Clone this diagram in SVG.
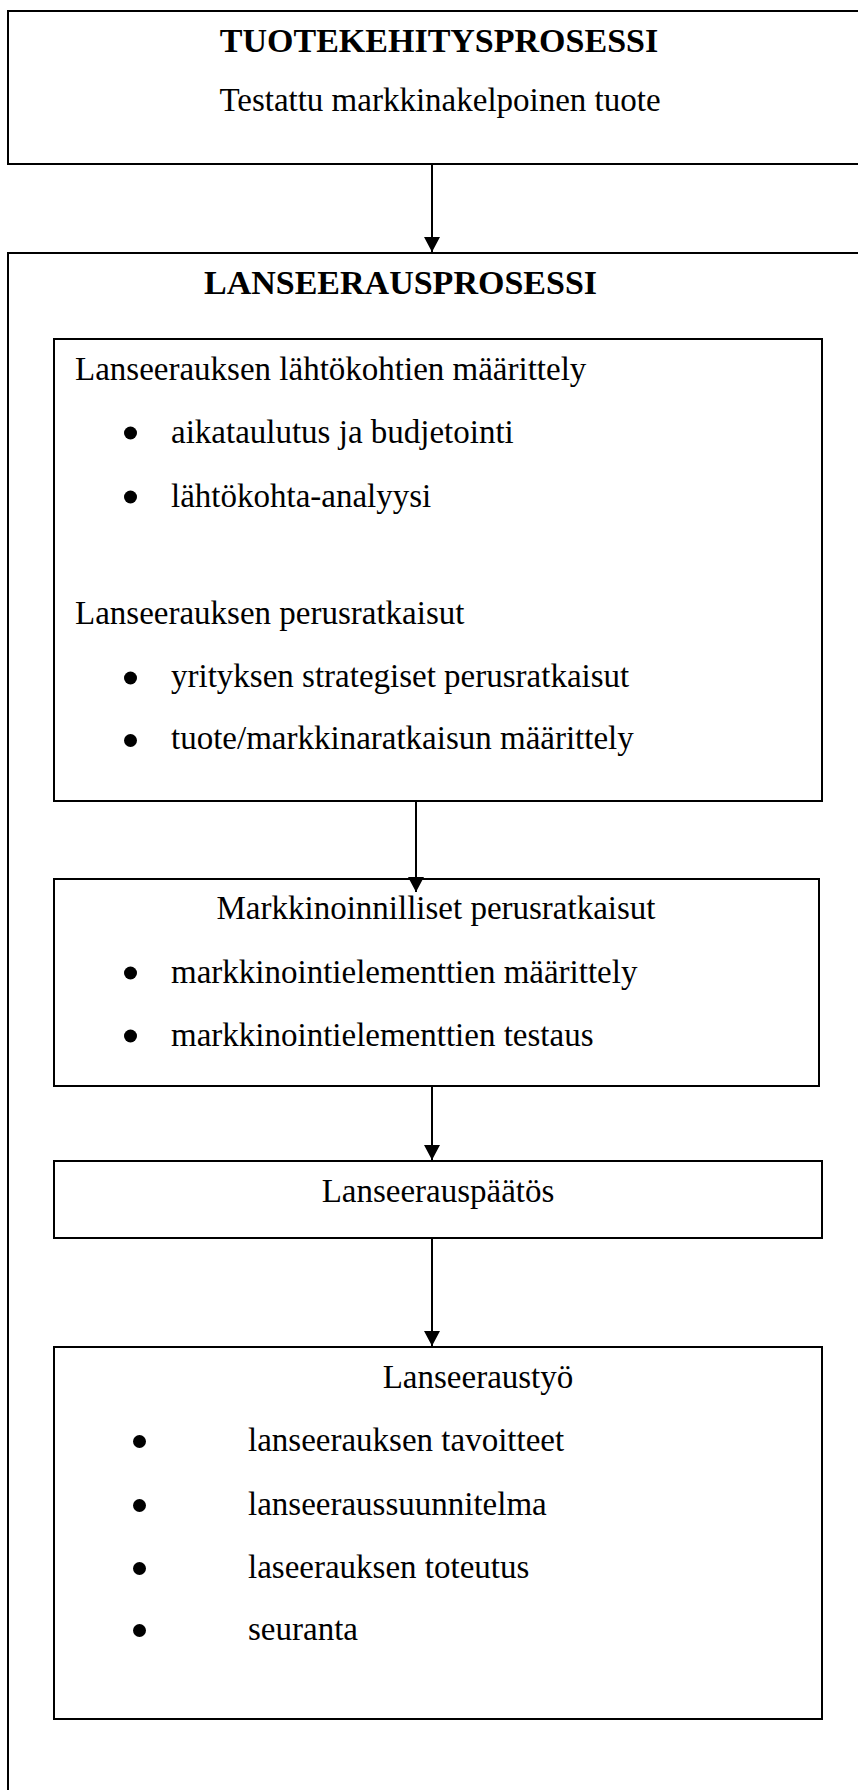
<svg xmlns="http://www.w3.org/2000/svg" width="858" height="1790" viewBox="0 0 858 1790">
<style>
.box{fill:none;stroke:#000;stroke-width:2}
.t{font-family:"Liberation Serif","Times New Roman",serif;font-size:33px;fill:#000}
.b{font-family:"Liberation Serif","Times New Roman",serif;font-size:34px;font-weight:bold;fill:#000}
.m{text-anchor:middle}
.dot{fill:#000}
.conn{stroke:#000;stroke-width:2;fill:none}
</style>
<defs>
<marker id="ah" viewBox="0 0 15 16" refX="15" refY="8" markerWidth="15" markerHeight="16" markerUnits="userSpaceOnUse" orient="auto">
<path d="M0,0 L15,8 L0,16 Z" fill="#000"/>
</marker>
</defs>
<rect width="858" height="1790" fill="#fff"/>
<g id="tuotekehitys">
<rect class="box" x="8" y="11" width="870" height="153"/>
<text class="b m" x="439" y="52">TUOTEKEHITYSPROSESSI</text>
<text class="t m" x="440" y="111">Testattu markkinakelpoinen tuote</text>
</g>
<g id="lanseerausprosessi">
<rect class="box" x="8" y="253" width="870" height="1560"/>
<text class="b" x="204" y="294">LANSEERAUSPROSESSI</text>
</g>
<g id="lahtokohdat">
<rect class="box" x="54" y="339" width="768" height="462"/>
<text class="t" x="75" y="380">Lanseerauksen lähtökohtien määrittely</text>
<circle class="dot" cx="130.5" cy="433" r="6.5"/>
<text class="t" x="171" y="443">aikataulutus ja budjetointi</text>
<circle class="dot" cx="130.5" cy="497" r="6.5"/>
<text class="t" x="171" y="507">lähtökohta-analyysi</text>
<text class="t" x="75" y="624">Lanseerauksen perusratkaisut</text>
<circle class="dot" cx="130.5" cy="678" r="6.5"/>
<text class="t" x="171" y="687">yrityksen strategiset perusratkaisut</text>
<circle class="dot" cx="130.5" cy="740.5" r="6.5"/>
<text class="t" x="171" y="749">tuote/markkinaratkaisun määrittely</text>
</g>
<g id="markkinoinnilliset">
<rect class="box" x="54" y="879" width="765" height="207"/>
<text class="t m" x="436" y="919">Markkinoinnilliset perusratkaisut</text>
<circle class="dot" cx="130.5" cy="973" r="6.5"/>
<text class="t" x="171" y="983">markkinointielementtien määrittely</text>
<circle class="dot" cx="130.5" cy="1036" r="6.5"/>
<text class="t" x="171" y="1046">markkinointielementtien testaus</text>
</g>
<g id="paatos">
<rect class="box" x="54" y="1161" width="768" height="77"/>
<text class="t m" x="438" y="1202">Lanseerauspäätös</text>
</g>
<g id="lanseeraustyo">
<rect class="box" x="54" y="1347" width="768" height="372"/>
<text class="t m" x="478" y="1388">Lanseeraustyö</text>
<circle class="dot" cx="139.5" cy="1441.5" r="6.5"/>
<text class="t" x="248" y="1451">lanseerauksen tavoitteet</text>
<circle class="dot" cx="139.5" cy="1505.5" r="6.5"/>
<text class="t" x="248" y="1515">lanseeraussuunnitelma</text>
<circle class="dot" cx="139.5" cy="1568.5" r="6.5"/>
<text class="t" x="248" y="1578">laseerauksen toteutus</text>
<circle class="dot" cx="139.5" cy="1630.5" r="6.5"/>
<text class="t" x="248" y="1640">seuranta</text>
</g>
<g id="connectors">
<line class="conn" x1="432" y1="165" x2="432" y2="252" marker-end="url(#ah)"/>
<line class="conn" x1="416" y1="801" x2="416" y2="892" marker-end="url(#ah)"/>
<line class="conn" x1="432" y1="1086" x2="432" y2="1160" marker-end="url(#ah)"/>
<line class="conn" x1="432" y1="1238" x2="432" y2="1346" marker-end="url(#ah)"/>
</g>
</svg>
